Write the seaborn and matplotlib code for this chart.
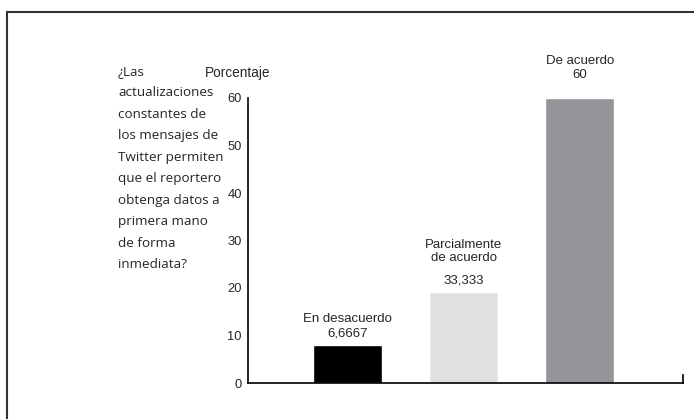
import matplotlib
matplotlib.use("Agg")
import pandas as pd
import seaborn as sns
import matplotlib.pyplot as plt
from matplotlib.patches import Rectangle

# data
categorias = ["En desacuerdo", "Parcialmente\nde acuerdo", "De acuerdo"]
alturas = [8.0, 19.2, 60.0]
etiquetas = ["6,6667", "33,333", "60"]
colores = ["#000000", "#e0e1e3", "#939598"]
yticks = [0, 10, 20, 30, 40, 50, 60]

pregunta = ["¿Las", "actualizaciones", "constantes de", "los mensajes de",
            "Twitter permiten", "que el reportero", "obtenga datos a",
            "primera mano", "de forma", "inmediata?"]

df = pd.DataFrame({"cat": categorias, "val": alturas})

sns.set_style("white")
plt.rcParams["font.family"] = ["Liberation Sans", "DejaVu Sans"]

fig = plt.figure(figsize=(6.94, 4.19), dpi=100)
ax = fig.add_axes([248 / 694, 1 - 383 / 419, (683 - 248) / 694, (383 - 98) / 419])

sns.barplot(data=df, x="cat", y="val", hue="cat", palette=colores,
            width=0.595, ax=ax, legend=False, saturation=1)

ax.set_xlim(-0.86, 2.89)
ax.set_ylim(0, 60)
ax.set_yticks(yticks)
ax.set_yticklabels([str(t) for t in yticks], fontsize=9.3)
ax.set_xticks([])
ax.set_xlabel("")
ax.set_ylabel("")
ax.tick_params(axis="y", direction="in", length=10, width=1, pad=4.5, color="black")
ax.yaxis.get_major_ticks()[5].tick1line.set_markeredgewidth(2)

for s in ["left", "bottom", "right"]:
    ax.spines[s].set_color("black")
    ax.spines[s].set_linewidth(1.2)
ax.spines["top"].set_visible(False)
ax.spines["right"].set_bounds(0, 1.6)

# labels above bars (offsets in pixels)
offs = [(26, 12), (40.5, 11), (37, 23)]
for i, (txt, val) in enumerate(zip(categorias, etiquetas)):
    o_cat, o_val = offs[i]
    ax.annotate(val, (i, alturas[i]), xytext=(0, o_val), textcoords="offset pixels",
                ha="center", va="center", fontsize=9.5, annotation_clip=False)
    ax.annotate(txt, (i, alturas[i]), xytext=(0, o_cat), textcoords="offset pixels",
                ha="center", va="center", multialignment="center",
                fontsize=9.5, linespacing=1.1, annotation_clip=False)

fig.text(205 / 694, 1 - 73 / 419, "Porcentaje", fontsize=9.8, ha="left", va="center")

# question, one line at a time (21.45 px apart)
for k, linea in enumerate(pregunta):
    fig.text(118 / 694, 1 - (75 + 21.45 * k) / 419, linea, fontsize=9.7,
             ha="left", va="baseline", family=["Open Sans", "DejaVu Sans"])

# outer frame
fig.patches.append(Rectangle((7 / 694, -0.1), 1.2, 1 - 12 / 419 + 0.1,
                             transform=fig.transFigure, fill=False,
                             edgecolor="#333333", linewidth=1.5))

plt.savefig("out.png", dpi=100)
